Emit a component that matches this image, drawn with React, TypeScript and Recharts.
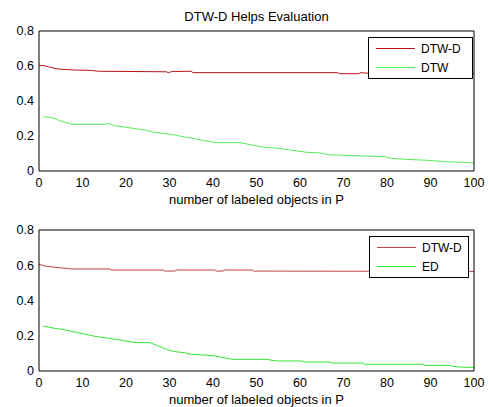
import { LineChart, Line, XAxis, YAxis } from 'recharts'

const xTicks = [0, 10, 20, 30, 40, 50, 60, 70, 80, 90, 100]
const yTicks = [0, 0.2, 0.4, 0.6, 0.8]

// [objects in P, value]
const topDtwd: [number, number][] = [
  [0, 0.604], [1.3, 0.602], [2.5, 0.593], [4.4, 0.583], [6, 0.58], [8.2, 0.577], [12, 0.575],
  [13.6, 0.57], [29.3, 0.567], [29.7, 0.562], [30.5, 0.568], [35, 0.57], [35.4, 0.562],
  [68.7, 0.562], [69, 0.556], [73.5, 0.556], [74, 0.562], [76, 0.558], [100, 0.558],
]
const topDtw: [number, number][] = [
  [1, 0.31], [3, 0.305], [4.8, 0.287], [7.5, 0.267], [15.1, 0.267], [16, 0.272], [17.4, 0.259],
  [19.7, 0.251], [22, 0.242], [24.3, 0.234], [26.6, 0.221], [29.7, 0.211], [31, 0.207],
  [33.4, 0.194], [35.4, 0.187], [38.1, 0.173], [40.8, 0.162], [46.2, 0.162], [48.9, 0.149],
  [51.9, 0.135], [54.6, 0.131], [57.7, 0.12], [61.5, 0.107], [64.6, 0.103], [66.7, 0.093],
  [69.6, 0.09], [74.5, 0.086], [79.5, 0.082], [81, 0.072], [84.1, 0.067], [89.5, 0.061],
  [93.3, 0.053], [97.2, 0.05], [100, 0.046],
]
const botDtwd: [number, number][] = [
  [0, 0.605], [1.7, 0.594], [4.8, 0.586], [7.5, 0.579], [16.3, 0.579], [16.6, 0.573],
  [28.5, 0.573], [28.9, 0.567], [31.2, 0.567], [31.7, 0.573], [40.4, 0.573], [40.8, 0.567],
  [42.3, 0.567], [42.6, 0.573], [49, 0.573], [49.3, 0.567], [100, 0.565],
]
const botEd: [number, number][] = [
  [1, 0.255], [3.6, 0.242], [5.5, 0.236], [8.2, 0.221], [10.5, 0.21], [12.8, 0.197],
  [16.7, 0.183], [19, 0.174], [22, 0.161], [25.5, 0.161], [27.4, 0.142], [29.7, 0.119],
  [31.2, 0.11], [33.4, 0.104], [34.7, 0.096], [40, 0.087], [42, 0.078], [44.6, 0.066],
  [52.3, 0.066], [54.6, 0.057], [60.4, 0.057], [61.1, 0.051], [66.7, 0.051], [67.6, 0.045],
  [74.5, 0.045], [74.9, 0.038], [88.4, 0.038], [88.7, 0.032], [94.5, 0.032], [94.9, 0.027],
  [97.5, 0.021], [100, 0.021],
]

const toRows = (pts: [number, number][]) => pts.map(([x, y]) => ({ x, y }))
const noTick = () => <g />
const tickStyle = { fontSize: 12.5, fill: '#000' }
const tickLine = { stroke: '#222' }

interface PanelProps {
  title?: string
  red: [number, number][]
  green: [number, number][]
  greenName: string
  redColor: string
  greenColor: string
  plotTop: number
  legendWidth: number
  legendLeft: number
}

function Panel({ title, red, green, greenName, redColor, greenColor, plotTop, legendWidth, legendLeft }: PanelProps) {
  const items = [
    { name: 'DTW-D', color: redColor },
    { name: greenName, color: greenColor },
  ]
  return (
    <div style={{ position: 'relative', width: 488, height: 207 }}>
      <LineChart width={488} height={207} margin={{ top: plotTop, right: 14, bottom: 0, left: 0 }}>
        {/* labelled axes */}
        <XAxis
          dataKey="x"
          type="number"
          domain={[0, 100]}
          ticks={xTicks}
          interval={0}
          height={36}
          tickSize={0}
          tickMargin={7}
          tickLine={false}
          tick={tickStyle}
          stroke="#000"
          label={{ value: 'number of labeled objects in P', position: 'insideBottom', offset: 3, fontSize: 13, fill: '#000' }}
        />
        <YAxis
          type="number"
          domain={[0, 0.8]}
          ticks={yTicks}
          interval={0}
          width={39}
          tickSize={0}
          tickMargin={5}
          tickLine={false}
          tick={tickStyle}
          tickFormatter={(v) => (v === 0 ? '0' : Number(v).toFixed(1))}
          stroke="#000"
        />
        {/* inward tick marks on all four sides (mirrored axes) */}
        <XAxis xAxisId="bm" type="number" domain={[0, 100]} ticks={xTicks} interval={0} mirror height={8}
          tickSize={4} tick={noTick} tickLine={tickLine} axisLine={false} />
        <XAxis
          xAxisId="t"
          orientation="top"
          type="number"
          domain={[0, 100]}
          ticks={xTicks}
          interval={0}
          mirror
          height={8}
          tickSize={4}
          tick={noTick}
          tickLine={tickLine}
          stroke="#000"
          label={title ? { value: title, position: 'top', offset: 10, fontSize: 13, fill: '#000' } : undefined}
        />
        <YAxis yAxisId="lm" type="number" domain={[0, 0.8]} ticks={yTicks} interval={0} mirror width={8}
          tickSize={4} tick={noTick} tickLine={tickLine} axisLine={false} />
        <YAxis yAxisId="r" orientation="right" type="number" domain={[0, 0.8]} ticks={yTicks} interval={0} mirror
          width={8} tickSize={4} tick={noTick} tickLine={tickLine} stroke="#000" />
        <Line data={toRows(red)} dataKey="y" stroke={redColor} strokeWidth={1} dot={false} isAnimationActive={false} />
        <Line data={toRows(green)} dataKey="y" stroke={greenColor} strokeWidth={1} dot={false} isAnimationActive={false} />
      </LineChart>
      {/* legend box drawn over the plot, like matlab's */}
      <div
        style={{
          position: 'absolute',
          left: legendLeft,
          top: plotTop + 6,
          boxSizing: 'border-box',
          width: legendWidth,
          height: 42,
          border: '1px solid #000',
          background: '#fff',
          paddingTop: 1,
          fontSize: 12,
        }}
      >
        {items.map((it) => (
          <div key={it.name} style={{ display: 'flex', alignItems: 'center', height: 19 }}>
            <div style={{ width: 39, height: 1, marginLeft: 7, marginRight: 6, background: it.color }} />
            <span>{it.name}</span>
          </div>
        ))}
      </div>
    </div>
  )
}

export default function App() {
  return (
    <div
      style={{
        position: 'absolute',
        left: 0,
        top: 0,
        width: 488,
        height: 407,
        background: '#fff',
        fontFamily: '"Liberation Sans", Arial, sans-serif',
      }}
    >
      <div style={{ position: 'absolute', left: 0, top: 0 }}>
        <Panel
          title="DTW-D Helps Evaluation"
          red={topDtwd}
          green={topDtw}
          greenName="DTW"
          redColor="#b81414"
          greenColor="#55ee55"
          plotTop={31}
          legendWidth={105}
          legendLeft={368}
        />
      </div>
      <div style={{ position: 'absolute', left: 0, top: 200 }}>
        <Panel
          red={botDtwd}
          green={botEd}
          greenName="ED"
          redColor="#c04545"
          greenColor="#33e633"
          plotTop={30}
          legendWidth={100}
          legendLeft={369}
        />
      </div>
    </div>
  )
}
